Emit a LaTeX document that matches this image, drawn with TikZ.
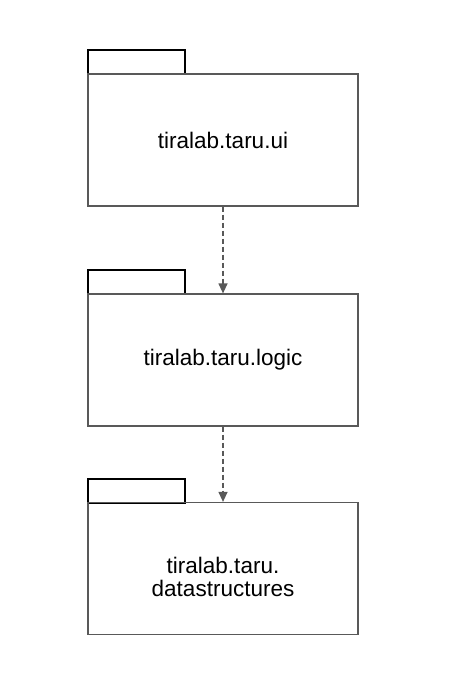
\documentclass[tikz,border=0pt]{standalone}
\usepackage{fontspec}
\setmainfont{Liberation Sans}
\usetikzlibrary{arrows.meta}
\begin{document}
\begin{tikzpicture}[x=1pt,y=-1pt,
  tabbox/.style={draw=black,line width=1.2pt},
  pkgbody/.style={draw=black!65,line width=1.2pt,minimum width=270pt,minimum height=132pt,inner sep=0pt},
  pkglabel/.style={inner sep=0pt,font=\fontsize{22.5}{23}\selectfont,align=center},
  dep/.style={draw=black!65,line width=1.2pt,dash pattern=on 5pt off 3pt,-{Triangle[length=10pt,width=9pt]}}]
\useasboundingbox (0,0) rectangle (464,700);
\draw[tabbox] (88,50) rectangle (185,74);
\node[pkgbody] (ui) at (223,140) {};
\node[pkglabel] (uilabel) at (ui.center) {tiralab.taru.ui};
\draw[tabbox] (88,270) rectangle (185,294);
\node[pkgbody] (logic) at (223,360) {};
\node[pkglabel] (logiclabel) at (logic.center) {tiralab.taru.logic};
\draw[tabbox] (88,479) rectangle (185,503);
\node[pkgbody] (ds) at (223,568.5) {};
\node[pkglabel,yshift=-8pt] (dslabel) at (ds.center) {tiralab.taru.\\datastructures};
\draw[dep] (ui.south) -- (logic.north);
\draw[dep] (logic.south) -- (ds.north);
\end{tikzpicture}
\end{document}
